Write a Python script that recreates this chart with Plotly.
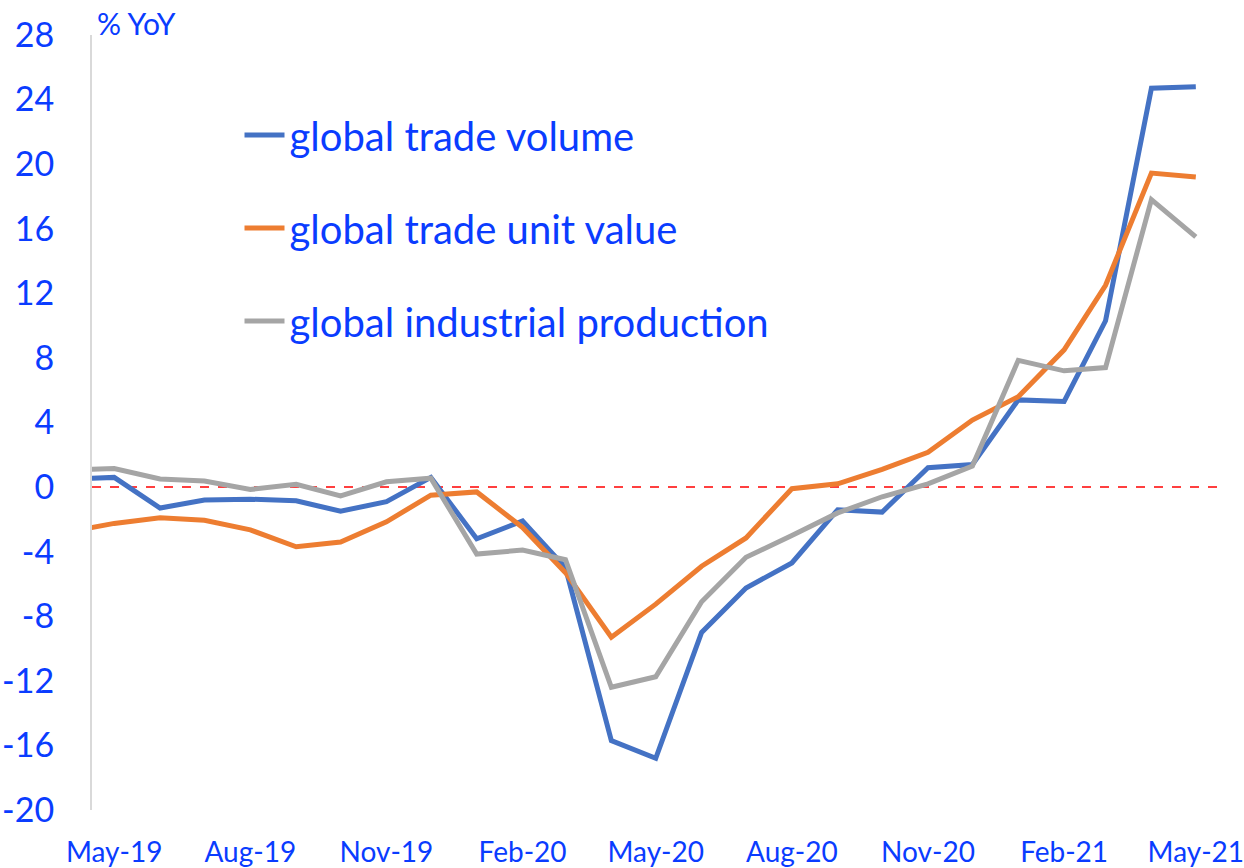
import plotly.graph_objects as go

months = ["2019-04-01", "2019-05-01", "2019-06-01", "2019-07-01", "2019-08-01", "2019-09-01",
          "2019-10-01", "2019-11-01", "2019-12-01", "2020-01-01", "2020-02-01", "2020-03-01",
          "2020-04-01", "2020-05-01", "2020-06-01", "2020-07-01", "2020-08-01", "2020-09-01",
          "2020-10-01", "2020-11-01", "2020-12-01", "2021-01-01", "2021-02-01", "2021-03-01",
          "2021-04-01", "2021-05-01"]

trade_volume = [0.5, 0.6, -1.3, -0.8, -0.75, -0.85, -1.5, -0.9, 0.6, -3.2, -2.1, -5.0,
                -15.7, -16.8, -9.0, -6.25, -4.7, -1.4, -1.55, 1.2, 1.4, 5.4, 5.3, 10.3,
                24.7, 24.8]
trade_unit_value = [-2.75, -2.25, -1.9, -2.05, -2.65, -3.7, -3.4, -2.15, -0.5, -0.3, -2.5, -5.3,
                    -9.3, -7.25, -4.9, -3.15, -0.1, 0.2, 1.1, 2.15, 4.15, 5.6, 8.5, 12.5,
                    19.45, 19.2]
industrial_production = [1.05, 1.15, 0.5, 0.37, -0.15, 0.17, -0.55, 0.33, 0.55, -4.15, -3.9, -4.5,
                         -12.4, -11.75, -7.1, -4.35, -3.0, -1.6, -0.6, 0.2, 1.3, 7.85, 7.2, 7.4,
                         17.8, 15.5]

series_names = ["global trade volume", "global trade unit value", "global industrial production"]
series_colors = ["#4472C4", "#ED7D31", "#A5A5A5"]
series_values = [trade_volume, trade_unit_value, industrial_production]

y_ticks = list(range(-20, 29, 4))
y_tick_labels = [str(v) for v in y_ticks]

blue_text = "#0A3CFF"
font_family = "Lato, 'Open Sans', sans-serif"

fig = go.Figure()
for name, color, vals in zip(series_names, series_colors, series_values):
    fig.add_trace(go.Scatter(x=months, y=vals, mode="lines", name=name, legendgroup=name,
                             line=dict(color=color, width=5)))

fig.add_shape(type="line", xref="paper", yref="y", x0=0, x1=1, y0=0, y1=0,
              line=dict(color="#FF0000", width=1.5, dash="dash"), layer="below")

fig.add_annotation(text="% YoY", xref="paper", yref="paper", x=0.003, y=1.0,
                   xanchor="left", yanchor="bottom", yshift=-8, showarrow=False,
                   font=dict(size=30, color=blue_text, family=font_family))

fig.update_layout(
    width=1244, height=868,
    margin=dict(l=92, r=26, t=35, b=58, autoexpand=False),
    paper_bgcolor="white", plot_bgcolor="white",
    font=dict(family=font_family, color=blue_text),
    showlegend=True,
    legend=dict(x=0.131, y=0.913, xanchor="left", yanchor="top",
                font=dict(size=40, color=blue_text, family=font_family),
                bgcolor="rgba(0,0,0,0)", tracegroupgap=38, itemwidth=40),
    xaxis=dict(type="date", range=["2019-04-16", "2021-05-16"],
               tick0="2019-05-01", dtick="M3", tickformat="%b-%y",
               showgrid=False, zeroline=False, showline=False, automargin=False,
               ticklabeloverflow="allow",
               ticks="outside", ticklen=17, tickcolor="rgba(0,0,0,0)",
               tickfont=dict(size=28, color=blue_text)),
    yaxis=dict(range=[-20, 28], tickvals=y_ticks, ticktext=y_tick_labels,
               showgrid=False, zeroline=False, automargin=False,
               ticklabeloverflow="allow",
               showline=True, linecolor="#D9D9D9", linewidth=2,
               ticks="outside", ticklen=29, tickcolor="rgba(0,0,0,0)",
               tickfont=dict(size=34, color=blue_text)),
)

fig.write_html("out.html", config={"displayModeBar": False},
               post_script="document.body.style.margin='0px';document.body.style.overflow='hidden';")
